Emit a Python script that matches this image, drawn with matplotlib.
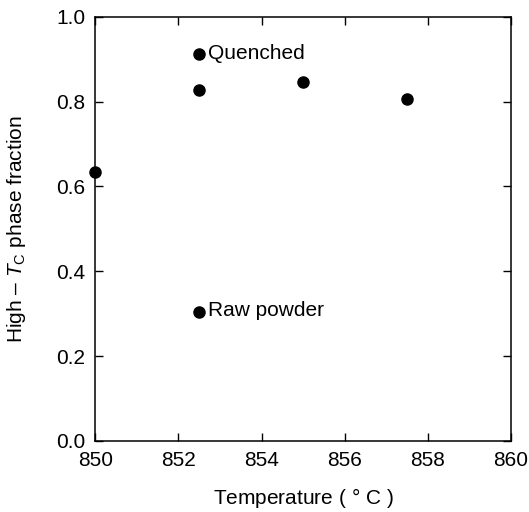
import matplotlib
matplotlib.use('Agg')
import matplotlib.pyplot as plt

plt.rcParams['font.family'] = ['Liberation Sans', 'DejaVu Sans']
plt.rcParams['mathtext.fontset'] = 'custom'
plt.rcParams['mathtext.rm'] = 'Liberation Sans'
plt.rcParams['mathtext.it'] = 'Liberation Sans:italic'

# annealing temperature vs. high-Tc phase fraction
temps = [850.0, 852.5, 855.0, 857.5]
fraction = [0.635, 0.828, 0.847, 0.806]

# reference samples
ref_labels = ['Quenched', 'Raw powder']
ref_temps = [852.5, 852.5]
ref_fraction = [0.913, 0.305]

fig = plt.figure(figsize=(5.29, 5.12), dpi=100)
ax = fig.add_axes([0.18, 0.139, 0.786, 0.828])

ax.plot(temps, fraction, 'o', color='black', markersize=8, clip_on=False)
ax.plot(ref_temps, ref_fraction, 'o', color='black', markersize=8)
for lab, t, f in zip(ref_labels, ref_temps, ref_fraction):
    ax.annotate(lab, (t, f), xytext=(6, 0.5), textcoords='offset points',
                va='center', ha='left', fontsize=15)

ax.set_xlim(850, 860)
ax.set_ylim(0, 1.0)
ax.set_xticks([850, 852, 854, 856, 858, 860])
ax.set_yticks([0.0, 0.2, 0.4, 0.6, 0.8, 1.0])
ax.set_yticklabels(['0.0', '0.2', '0.4', '0.6', '0.8', '1.0'])
ax.tick_params(direction='in', top=True, right=True, length=6, width=1,
               labelsize=15, pad=7)
for s in ax.spines.values():
    s.set_linewidth(1.1)

ax.set_xlabel('Temperature ( $\\degree$ C )', fontsize=15, labelpad=12)
ax.set_ylabel('High – $T_{\\rm C}$ phase fraction', fontsize=15, labelpad=20)

fig.savefig('out.png', dpi=100)
